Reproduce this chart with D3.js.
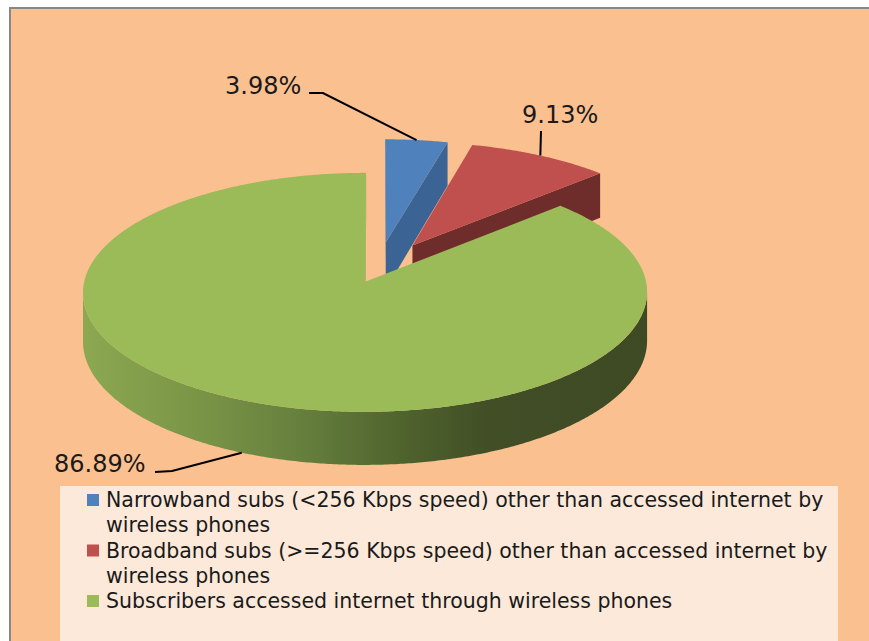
<!DOCTYPE html>
<html>
<head>
<meta charset="utf-8">
<script src="https://cdn.jsdelivr.net/npm/d3@7"></script>
<style>
  body { margin: 0; background: #fff; }
  svg { display: block; }
</style>
</head>
<body>
<div id="chart"></div>
<script>
// chart data
var categories = [
  "Narrowband subs (<256 Kbps speed) other than accessed internet by wireless phones",
  "Broadband subs (>=256 Kbps speed) other than accessed internet by wireless phones",
  "Subscribers accessed internet through wireless phones"
];
var legendLines = [
  ["Narrowband subs (<256 Kbps speed) other than accessed internet by", "wireless phones"],
  ["Broadband subs (>=256 Kbps speed) other than accessed internet by", "wireless phones"],
  ["Subscribers accessed internet through wireless phones"]
];
var shares = [3.98, 9.13, 86.89];
var shareLabels = ["3.98%", "9.13%", "86.89%"];

// styling
var topColors  = ["#4F81BD", "#C0504D", "#9BBB59"];
var sideColors = ["#3B6494", "#6E2C2B", "url(#greenSide)"];
var explode    = [0.245, 0.25, 0.11];   // fraction of radius

var width = 869, height = 641;

// 3d pie projection (u = right, v = toward back, z = 0 top / 1 bottom)
var X0 = 377.5, Y0 = 270, RX = 278.5, RY = 116.5, P = 0.087, DEPTH = 48;
function proj(u, v, z) {
  var w = 1 + P * v;
  return [X0 + RX * u / w, Y0 - RY * v / w + DEPTH * z / w];
}

var svg = d3.select("#chart")
  .append("svg")
    .attr("width", width)
    .attr("height", height);

var defs = svg.append("defs");
var grad = defs.append("linearGradient")
    .attr("id", "greenSide")
    .attr("x1", 0).attr("x2", 1).attr("y1", 0).attr("y2", 0);
[[0, "#8CA851"], [0.2, "#7B9547"], [0.38, "#67803E"], [0.56, "#50642E"], [0.72, "#414E26"], [1, "#3D4A23"]]
  .forEach(function(s) {
    grad.append("stop").attr("offset", s[0]).attr("stop-color", s[1]);
  });

// chart area
svg.append("rect")
    .attr("x", 10).attr("y", 8)
    .attr("width", width + 10).attr("height", height + 10)
    .attr("fill", "#FAC090")
    .attr("stroke", "#888")
    .attr("stroke-width", 2);

var arcs = d3.pie().sort(null).value(function(d) { return d; })(shares);

arcs.forEach(function(a, i) {
  a.index = i;
  a.mid = (a.startAngle + a.endAngle) / 2;
  a.ou = explode[i] * Math.sin(a.mid);
  a.ov = explode[i] * Math.cos(a.mid);
});

function rim(a, ang, z) {
  return proj(a.ou + Math.sin(ang), a.ov + Math.cos(ang), z);
}
function samples(a0, a1) {
  var n = Math.max(2, Math.ceil((a1 - a0) / (Math.PI / 360)));
  return d3.range(n + 1).map(function(k) { return a0 + (a1 - a0) * k / n; });
}
var line = d3.line();

var pie = svg.append("g");

// back slices first
arcs.slice().sort(function(a, b) { return Math.cos(b.mid) - Math.cos(a.mid); })
  .forEach(function(a) {
    var g = pie.append("g");
    var angs = samples(a.startAngle, a.endAngle);

    // outer wall, only the parts facing the viewer
    var runs = [], cur = [];
    angs.forEach(function(t) {
      var vis = Math.cos(t) < -P * (1 + a.ou * Math.sin(t) + a.ov * Math.cos(t));
      if (vis) cur.push(t);
      else if (cur.length) { runs.push(cur); cur = []; }
    });
    if (cur.length) runs.push(cur);
    runs.forEach(function(r) {
      var pts = r.map(function(t) { return rim(a, t, 0); })
        .concat(r.slice().reverse().map(function(t) { return rim(a, t, 1); }));
      g.append("path")
        .attr("d", line(pts) + "Z")
        .attr("fill", sideColors[a.index]);
    });

    // radial faces
    var cam = [-a.ou, -1 / P - a.ov];
    var faces = [
      { ang: a.startAngle, n: [-Math.cos(a.startAngle), Math.sin(a.startAngle)] },
      { ang: a.endAngle,   n: [Math.cos(a.endAngle), -Math.sin(a.endAngle)] }
    ];
    faces.forEach(function(f) {
      if (f.n[0] * cam[0] + f.n[1] * cam[1] <= 0) return;
      var pts = [proj(a.ou, a.ov, 0), rim(a, f.ang, 0), rim(a, f.ang, 1), proj(a.ou, a.ov, 1)];
      g.append("path")
        .attr("d", line(pts) + "Z")
        .attr("fill", a.index == 2 ? "#7C9648" : sideColors[a.index]);
    });

    // top face
    var top = [proj(a.ou, a.ov, 0)].concat(angs.map(function(t) { return rim(a, t, 0); }));
    g.append("path")
      .attr("d", line(top) + "Z")
      .attr("fill", topColors[a.index]);
  });

// data labels with leader lines
var labelPos = [
  { x: 225, y: 94,  path: [[309, 93], [323, 93]] },
  { x: 522, y: 123, path: [[541, 131]] },
  { x: 54,  y: 472, path: [[155, 472], [172, 471]] }
];

arcs.forEach(function(a, i) {
  var front = Math.cos(a.mid) < 0;
  var end = rim(a, a.mid, front ? 1 : 0);
  var pts = labelPos[i].path.concat([end]);
  svg.append("path")
    .attr("d", line(pts))
    .attr("fill", "none")
    .attr("stroke", "#000")
    .attr("stroke-width", 2);
  svg.append("text")
    .attr("x", labelPos[i].x)
    .attr("y", labelPos[i].y)
    .attr("font-family", "DejaVu Sans, sans-serif")
    .attr("font-size", 24)
    .attr("fill", "#1a1a1a")
    .text(shareLabels[i]);
});

// legend
var legend = svg.append("g");
legend.append("rect")
    .attr("x", 60).attr("y", 486)
    .attr("width", 778).attr("height", 170)
    .attr("fill", "#FDE9D9");

var lineH = 25.25, baseY = 507, row = 0;
legendLines.forEach(function(lines, i) {
  legend.append("rect")
    .attr("x", 87)
    .attr("y", baseY + row * lineH - 13)
    .attr("width", 12).attr("height", 12)
    .attr("fill", topColors[i]);
  lines.forEach(function(t) {
    legend.append("text")
      .attr("x", 106)
      .attr("y", baseY + row * lineH)
      .attr("font-family", "DejaVu Sans, sans-serif")
      .attr("font-size", 20.5)
      .attr("fill", "#1a1a1a")
      .text(t);
    row++;
  });
});
</script>
</body>
</html>
